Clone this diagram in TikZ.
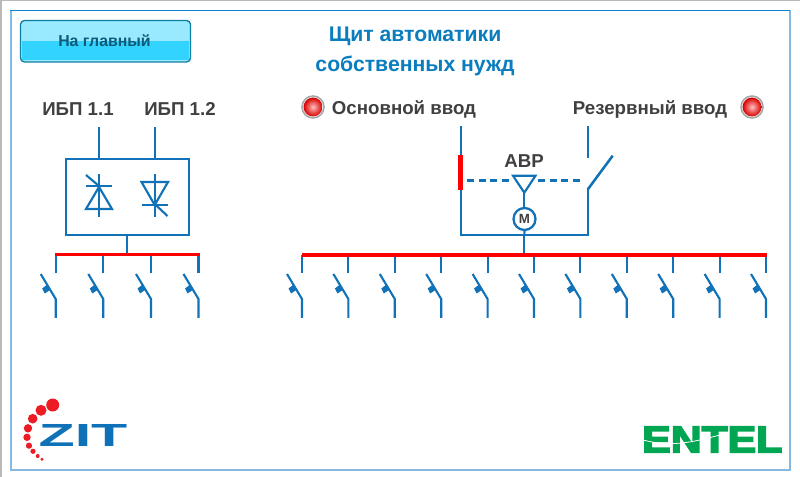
\documentclass[tikz,border=0pt]{standalone}
\usepackage{fontspec}
\setmainfont{Liberation Sans}
\newfontfamily\heavyfont[FakeBold=4]{Liberation Sans Bold}
\usetikzlibrary{shadings}
\definecolor{wire}{HTML}{1272B8}
\definecolor{ttl}{HTML}{0A7DBE}
\definecolor{lbl}{HTML}{404040}
\definecolor{busred}{HTML}{FF0000}
\definecolor{btntop}{HTML}{99E9FF}
\definecolor{btnlow}{HTML}{33D3FF}
\definecolor{btnedge}{HTML}{0F7FA0}
\definecolor{btntxt}{HTML}{0F5A78}
\definecolor{logored}{HTML}{ED1C24}
\definecolor{logoblue}{HTML}{0F72B8}
\definecolor{logogreen}{HTML}{00A651}
\definecolor{frameT}{HTML}{1080D0}
\definecolor{frameS}{HTML}{85B9E2}
\tikzset{
  x=0.75pt,y=-0.75pt,
  lw/.style={draw=wire,line width=1.7pt},
  wl/.style={draw=wire,line width=1.6pt},
  bus/.style={draw=busred,line width=2.6pt},
  lab/.style={font=\fontsize{14pt}{15pt}\selectfont\bfseries,text=lbl,inner sep=0pt},
  ttlt/.style={font=\fontsize{15.9pt}{17pt}\selectfont\bfseries,text=ttl,inner sep=0pt},
}
\newcommand{\feeder}[2]{%
  \draw[wl] (#1,#2) -- (#1,273);
  \draw[wl] (#1-15,274) -- (#1,299) -- (#1,318);
  \fill[wire] (#1-13.5,288.5) -- (#1-9,285) -- (#1-5,289.5) -- (#1-11,293.5) -- cycle;
}
\newcommand{\lamp}[2]{%
  \fill[gray!70] (#1,#2) circle[radius=11.8];
  \fill[white!80!gray] (#1,#2) circle[radius=10.2];
  \shade[inner color=red!25!white,outer color=red!85!black] (#1,#2) circle[radius=9.4];
}
\begin{document}
\begin{tikzpicture}
\useasboundingbox (0,0) rectangle (800,477);
\fill[white] (0,0) rectangle (800,477);
% outer frame
\fill[gray!55] (0,0) rectangle (800,1);
\fill[gray!55] (0,0) rectangle (1.5,477);
\draw[draw=frameS,line width=1.5pt] (10.5,10.5) -- (10.5,469.5) -- (789.5,469.5) -- (789.5,10.5);
\draw[draw=frameT,line width=1.2pt] (10,10.5) -- (790,10.5);
% button
\draw[draw=btnedge,line width=1pt,fill=btntop,rounded corners=3] (20.5,20.5) rectangle (190.5,62);
\fill[btnlow] (22,41) rectangle (189,60);
\node[font=\fontsize{11.9pt}{13pt}\selectfont\bfseries,text=btntxt,inner sep=0pt] (home) at (104.5,40.5) {На главный};
% titles
\node[ttlt] (t1) at (415,36) {Щит автоматики};
\node[ttlt] (t2) at (415,65.5) {собственных нужд};
% labels
\node[lab] (u1) at (78,109) {ИБП 1.1};
\node[lab] (u2) at (180,109) {ИБП 1.2};
\node[lab] (main) at (404,109) {Основной ввод};
\node[lab] (res) at (650,109) {Резервный ввод};
\node[lab] (abr) at (524,161) {АВР};
% lamps
\lamp{313}{107}
\lamp{752}{107}
% left UPS
\draw[lw] (65.7,158.7) rectangle (188.7,235);
\coordinate (ua) at (99,127);
\coordinate (ub) at (154.7,127);
\draw[lw] (ua) -- (99,158.7);
\draw[lw] (ub) -- (154.7,158.7);
\draw[lw] (127,235) -- (127,254);
% thyristor A
\draw[wl] (99,174) -- (99,217);
\draw[wl] (86,186) -- (111.5,186);
\draw[wl,line join=miter] (99,187) -- (86,209) -- (112,209) -- cycle;
\draw[wl] (86,175) -- (99,186);
% thyristor B
\draw[wl] (154.7,174) -- (154.7,217);
\draw[wl] (142,205) -- (168,205);
\draw[wl,line join=miter] (154.7,205) -- (141.5,182) -- (168,182) -- cycle;
\draw[wl] (154.7,204) -- (167.5,216);
% feeders left
\foreach \xx in {55.7,103.3,151,198.5}{\feeder{\xx}{254}}
\draw[bus] (55,254.5) -- (199.5,254.5);
% ATS
\draw[wl] (460.7,126) -- (460.7,235) -- (587.7,235) -- (587.7,189.5);
\draw[wl] (587.7,126) -- (587.7,158);
\draw[draw=wire,line width=1.9pt] (587.7,189.5) -- (612.7,155.7);
\fill[busred] (458,155) rectangle (463,190);
\draw[draw=wire,line width=2pt,dash pattern=on 5.2pt off 3.6pt] (467,180.7) -- (511,180.7);
\draw[draw=wire,line width=2pt,dash pattern=on 5.2pt off 3.6pt] (538,180.7) -- (581,180.7);
\draw[wl,line join=miter] (513,175.7) -- (535.5,175.7) -- (524.3,192.7) -- cycle;
\draw[wl] (524.3,192.7) -- (524.3,208);
\node[circle,draw=wire,line width=1.7pt,minimum size=16.5pt,inner sep=0pt,font=\fontsize{10pt}{10pt}\selectfont\bfseries,text=lbl] (motor) at (524.5,219) {М};
\draw[wl] (motor.south) -- (524.3,235);
\draw[wl] (524.3,235) -- (524.3,254);
% feeders right
\foreach \xx in {302,348.4,394.8,441.2,487.6,534,580.4,626.8,673.2,719.6,766}{\feeder{\xx}{255}}
\draw[bus] (301.5,255) -- (767,255);
% ZIT logo
\foreach \cx/\cy/\cr in {52.7/405/6.5,41/410.3/5.5,32.7/418.7/4.8,28/428.3/4.2,27/437.3/3.7,29/445.7/3.1,33/451.3/2.6,37.7/456/2,42/459.3/1.6}{
  \fill[logored] (\cx,\cy) circle[radius=\cr*0.75pt];
}
\node[inner sep=0pt,text=logoblue,xscale=1.85,font=\fontsize{24pt}{24pt}\selectfont\bfseries] (zit) at (83,435.5) {ZIT};
% ENTEL logo
\node[inner sep=0pt,text=logogreen,xscale=1.145,font=\fontsize{28pt}{28pt}\heavyfont] (entel) at (712.3,439.5) {ENTEL};
\draw[white,line width=0.6pt] (643,440) .. controls (670,447) and (690,443) .. (720,435);
\end{tikzpicture}
\end{document}
